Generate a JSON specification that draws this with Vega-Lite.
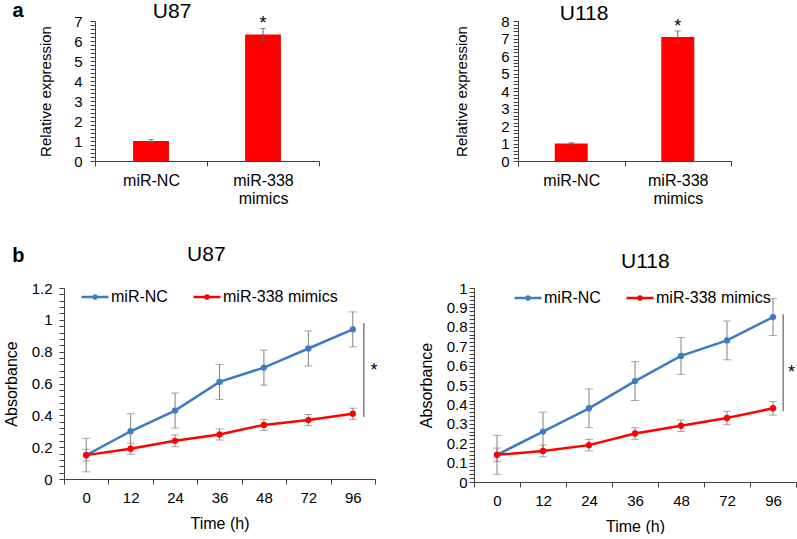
{
  "$schema": "https://vega.github.io/schema/vega-lite/v6.json",
  "padding": {"left": 3, "top": 1, "right": 0, "bottom": 0},
  "background": "white",
  "config": {
    "font": "Liberation Sans",
    "view": {"stroke": null},
    "axis": {"domainColor": "#404040", "tickColor": "#404040", "labelColor": "#000000", "titleColor": "#000000", "titleFontWeight": "normal", "grid": false, "labelFontSize": 15, "titleFontSize": 15, "tickSize": 5, "labelPadding": 4},
    "title": {"fontWeight": "normal", "color": "#000000"},
    "legend": {"padding": 0}
  },
  "resolve": {"scale": {"color": "independent"}, "legend": {"color": "independent"}},
  "datasets": {
    "expr": [
      {"line": "U87", "group": "miR-NC", "value": 1.0, "err": 0.07, "sig": ""},
      {"line": "U87", "group": "miR-338 mimics", "value": 6.33, "err": 0.3, "sig": "*"},
      {"line": "U118", "group": "miR-NC", "value": 1.0, "err": 0.04, "sig": ""},
      {"line": "U118", "group": "miR-338 mimics", "value": 7.08, "err": 0.35, "sig": "*"}
    ],
    "prolif": [
      {"line": "U87", "group": "miR-NC", "time": 0, "value": 0.15, "err": 0.105},
      {"line": "U87", "group": "miR-NC", "time": 12, "value": 0.30, "err": 0.11},
      {"line": "U87", "group": "miR-NC", "time": 24, "value": 0.43, "err": 0.11},
      {"line": "U87", "group": "miR-NC", "time": 36, "value": 0.61, "err": 0.11},
      {"line": "U87", "group": "miR-NC", "time": 48, "value": 0.70, "err": 0.11},
      {"line": "U87", "group": "miR-NC", "time": 72, "value": 0.82, "err": 0.11},
      {"line": "U87", "group": "miR-NC", "time": 96, "value": 0.94, "err": 0.11},
      {"line": "U87", "group": "miR-338 mimics", "time": 0, "value": 0.15, "err": 0.037},
      {"line": "U87", "group": "miR-338 mimics", "time": 12, "value": 0.19, "err": 0.035},
      {"line": "U87", "group": "miR-338 mimics", "time": 24, "value": 0.24, "err": 0.037},
      {"line": "U87", "group": "miR-338 mimics", "time": 36, "value": 0.28, "err": 0.035},
      {"line": "U87", "group": "miR-338 mimics", "time": 48, "value": 0.34, "err": 0.035},
      {"line": "U87", "group": "miR-338 mimics", "time": 72, "value": 0.37, "err": 0.035},
      {"line": "U87", "group": "miR-338 mimics", "time": 96, "value": 0.41, "err": 0.035},
      {"line": "U118", "group": "miR-NC", "time": 0, "value": 0.14, "err": 0.1},
      {"line": "U118", "group": "miR-NC", "time": 12, "value": 0.26, "err": 0.1},
      {"line": "U118", "group": "miR-NC", "time": 24, "value": 0.38, "err": 0.1},
      {"line": "U118", "group": "miR-NC", "time": 36, "value": 0.52, "err": 0.1},
      {"line": "U118", "group": "miR-NC", "time": 48, "value": 0.65, "err": 0.095},
      {"line": "U118", "group": "miR-NC", "time": 72, "value": 0.73, "err": 0.1},
      {"line": "U118", "group": "miR-NC", "time": 96, "value": 0.85, "err": 0.095},
      {"line": "U118", "group": "miR-338 mimics", "time": 0, "value": 0.14, "err": 0.035},
      {"line": "U118", "group": "miR-338 mimics", "time": 12, "value": 0.16, "err": 0.03},
      {"line": "U118", "group": "miR-338 mimics", "time": 24, "value": 0.19, "err": 0.03},
      {"line": "U118", "group": "miR-338 mimics", "time": 36, "value": 0.25, "err": 0.03},
      {"line": "U118", "group": "miR-338 mimics", "time": 48, "value": 0.29, "err": 0.03},
      {"line": "U118", "group": "miR-338 mimics", "time": 72, "value": 0.33, "err": 0.035},
      {"line": "U118", "group": "miR-338 mimics", "time": 96, "value": 0.38, "err": 0.035}
    ],
    "bracket": [
      {"line": "U87", "time": 96, "top": 0.98, "bottom": 0.39, "star": 0.71, "sig": "*"},
      {"line": "U118", "time": 96, "top": 0.865, "bottom": 0.365, "star": 0.59, "sig": "*"}
    ]
  },
  "columns": 1,
  "align": "none",
  "spacing": 38,
  "concat": [
    {
      "title": {"text": "a", "anchor": "end", "frame": "bounds", "orient": "left", "angle": 0, "align": "right", "baseline": "top", "offset": 4, "fontSize": 20, "fontWeight": "bold"},
      "columns": 2,
      "align": "none",
      "spacing": 134,
      "concat": [
        {
          "width": 255, "height": 140,
          "title": {"text": "U87", "fontSize": 21, "frame": "bounds", "offset": -8, "dx": -7},
          "data": {"name": "expr"},
          "transform": [{"filter": "datum.line == 'U87'"}],
          "encoding": {
            "x": {"field": "group", "type": "nominal", "sort": ["miR-NC", "miR-338 mimics"], "scale": {"paddingInner": 0, "paddingOuter": 0, "range": [31, 255]},
              "axis": {"title": null, "labelAngle": 0, "tickBand": "extent", "labelFontSize": 16, "labelPadding": 6, "labelExpr": "datum.label == 'miR-338 mimics' ? ['miR-338', 'mimics'] : datum.label"}},
            "y": {"field": "value", "type": "quantitative", "scale": {"domain": [0, 7]},
               "axis": {"title": "Relative expression", "offset": -31, "titlePadding": 20, "labelPadding": 8, "format": "~g",
                 "values": [0,0.2,0.4,0.6,0.8,1,1.2,1.4,1.6,1.8,2,2.2,2.4,2.6,2.8,3,3.2,3.4,3.6,3.8,4,4.2,4.4,4.6,4.8,5,5.2,5.4,5.6,5.8,6,6.2,6.4,6.6,6.8,7],
                 "labelExpr": "abs(datum.value - round(datum.value)) < 0.001 ? datum.label : ''"}}
          },
          "layer": [
            {"mark": {"type": "bar", "color": "#FF0000", "width": {"band": 0.32}}},
            {"mark": {"type": "errorbar", "color": "#606060", "ticks": {"size": 6}},
             "encoding": {"yError": {"field": "err"}}},
            {"mark": {"type": "text", "fontSize": 18, "baseline": "alphabetic", "dy": -5},
             "encoding": {"text": {"field": "sig"}}}
          ]
        },
        {
          "width": 213, "height": 140,
          "title": {"text": "U118", "fontSize": 21, "frame": "bounds", "offset": -10, "dx": -9},
          "data": {"name": "expr"},
          "transform": [{"filter": "datum.line == 'U118'"}],
          "encoding": {
            "x": {"field": "group", "type": "nominal", "sort": ["miR-NC", "miR-338 mimics"], "scale": {"paddingInner": 0, "paddingOuter": 0},
              "axis": {"title": null, "labelAngle": 0, "tickBand": "extent", "labelFontSize": 16, "labelPadding": 6, "labelExpr": "datum.label == 'miR-338 mimics' ? ['miR-338', 'mimics'] : datum.label"}},
            "y": {"field": "value", "type": "quantitative", "scale": {"domain": [0, 8]},
               "axis": {"title": "Relative expression", "titlePadding": 31, "labelPadding": 4, "format": "~g",
                 "values": [0,0.2,0.4,0.6,0.8,1,1.2,1.4,1.6,1.8,2,2.2,2.4,2.6,2.8,3,3.2,3.4,3.6,3.8,4,4.2,4.4,4.6,4.8,5,5.2,5.4,5.6,5.8,6,6.2,6.4,6.6,6.8,7,7.2,7.4,7.6,7.8,8],
                 "labelExpr": "abs(datum.value - round(datum.value)) < 0.001 ? datum.label : ''"}}
          },
          "layer": [
            {"mark": {"type": "bar", "color": "#FF0000", "width": {"band": 0.31}}},
            {"mark": {"type": "errorbar", "color": "#606060", "ticks": {"size": 6}},
             "encoding": {"yError": {"field": "err"}}},
            {"mark": {"type": "text", "fontSize": 18, "baseline": "alphabetic", "dy": -5},
             "encoding": {"text": {"field": "sig"}}}
          ]
        }
      ]
    },
    {
      "title": {"text": "b", "anchor": "start", "frame": "bounds", "orient": "top", "offset": -22, "dx": 9, "fontSize": 20, "fontWeight": "bold"},
      "columns": 2,
      "align": "none",
      "spacing": 40,
      "resolve": {"scale": {"color": "independent"}, "legend": {"color": "independent"}},
      "concat": [
        {
          "width": 311, "height": 191,
          "title": {"text": "U87", "fontSize": 21, "frame": "bounds", "offset": 16, "dx": 16},
          "data": {"name": "prolif"},
          "transform": [{"filter": "datum.line == 'U87'"}],
          "encoding": {
            "x": {"field": "time", "type": "ordinal", "scale": {"paddingInner": 0, "paddingOuter": 0},
              "axis": {"title": "Time (h)", "titleFontSize": 16, "labelAngle": 0, "tickBand": "extent", "labelPadding": 6, "titlePadding": 10}},
            "y": {"field": "value", "type": "quantitative", "scale": {"domain": [0, 1.2]},
              "axis": {"title": "Absorbance", "titleFontSize": 16, "titlePadding": 12, "labelPadding": 7, "format": "~g",
                "values": [0,0.04,0.08,0.12,0.16,0.2,0.24,0.28,0.32,0.36,0.4,0.44,0.48,0.52,0.56,0.6,0.64,0.68,0.72,0.76,0.8,0.84,0.88,0.92,0.96,1,1.04,1.08,1.12,1.16,1.2],
                "labelExpr": "abs(datum.value*5 - round(datum.value*5)) < 0.001 ? datum.label : ''"}}
          },
          "layer": [
            {"mark": {"type": "errorbar", "color": "#808080", "ticks": {"size": 8}},
             "encoding": {"yError": {"field": "err"}, "detail": {"field": "group"}}},
            {"mark": {"type": "line", "strokeWidth": 2.5, "point": {"filled": true, "size": 40}},
             "encoding": {
               "color": {"field": "group", "type": "nominal", "sort": ["miR-NC", "miR-338 mimics"],
                 "scale": {"domain": ["miR-NC", "miR-338 mimics"], "range": ["#3C7CC3", "#FF0000"]},
                 "legend": {"orient": "none", "legendX": 16, "legendY": -6, "direction": "horizontal", "title": null,
                   "symbolType": "M-1,0L1,0M0.12,0A0.12,0.12,0,1,1,-0.12,0A0.12,0.12,0,1,1,0.12,0M0.04,0A0.04,0.04,0,1,1,-0.04,0A0.04,0.04,0,1,1,0.04,0",
                   "symbolSize": 729, "symbolStrokeWidth": 2.5, "labelFontSize": 16, "columnPadding": 20, "labelOffset": 1}}
             }},
            {"data": {"name": "bracket"}, "transform": [{"filter": "datum.line == 'U87'"}],
             "mark": {"type": "rule", "color": "#404040", "strokeWidth": 1},
             "encoding": {"x": {"field": "time", "type": "ordinal", "bandPosition": 0.75}, "y": {"field": "top", "type": "quantitative"}, "y2": {"field": "bottom"}}},
            {"data": {"name": "bracket"}, "transform": [{"filter": "datum.line == 'U87'"}],
             "mark": {"type": "text", "fontSize": 18, "baseline": "middle", "dy": 5},
             "encoding": {"x": {"field": "time", "type": "ordinal", "bandPosition": 0.98}, "y": {"field": "star", "type": "quantitative"}, "text": {"field": "sig"}}}
          ]
        },
        {
          "width": 322, "height": 194,
          "title": {"text": "U118", "fontSize": 21, "frame": "bounds", "offset": 9, "dx": 38},
          "data": {"name": "prolif"},
          "transform": [{"filter": "datum.line == 'U118'"}],
          "encoding": {
            "x": {"field": "time", "type": "ordinal", "scale": {"paddingInner": 0, "paddingOuter": 0},
              "axis": {"title": "Time (h)", "titleFontSize": 16, "labelAngle": 0, "tickBand": "extent", "labelPadding": 6, "titlePadding": 10}},
            "y": {"field": "value", "type": "quantitative", "scale": {"domain": [0, 1]},
              "axis": {"title": "Absorbance", "titleFontSize": 16, "titlePadding": 12, "labelPadding": 2, "format": "~g",
                "values": [0,0.02,0.04,0.06,0.08,0.1,0.12,0.14,0.16,0.18,0.2,0.22,0.24,0.26,0.28,0.3,0.32,0.34,0.36,0.38,0.4,0.42,0.44,0.46,0.48,0.5,0.52,0.54,0.56,0.58,0.6,0.62,0.64,0.66,0.68,0.7,0.72,0.74,0.76,0.78,0.8,0.82,0.84,0.86,0.88,0.9,0.92,0.94,0.96,0.98,1],
                "labelExpr": "abs(datum.value*10 - round(datum.value*10)) < 0.001 ? datum.label : ''"}}
          },
          "layer": [
            {"mark": {"type": "errorbar", "color": "#808080", "ticks": {"size": 8}},
             "encoding": {"yError": {"field": "err"}, "detail": {"field": "group"}}},
            {"mark": {"type": "line", "strokeWidth": 2.5, "point": {"filled": true, "size": 40}},
             "encoding": {
               "color": {"field": "group", "type": "nominal", "sort": ["miR-NC", "miR-338 mimics"],
                 "scale": {"domain": ["miR-NC", "miR-338 mimics"], "range": ["#3C7CC3", "#FF0000"]},
                 "legend": {"orient": "none", "legendX": 39, "legendY": -5, "direction": "horizontal", "title": null,
                   "symbolType": "M-1,0L1,0M0.12,0A0.12,0.12,0,1,1,-0.12,0A0.12,0.12,0,1,1,0.12,0M0.04,0A0.04,0.04,0,1,1,-0.04,0A0.04,0.04,0,1,1,0.04,0",
                   "symbolSize": 729, "symbolStrokeWidth": 2.5, "labelFontSize": 16, "columnPadding": 20, "labelOffset": 1}}
             }},
            {"data": {"name": "bracket"}, "transform": [{"filter": "datum.line == 'U118'"}],
             "mark": {"type": "rule", "color": "#404040", "strokeWidth": 1},
             "encoding": {"x": {"field": "time", "type": "ordinal", "bandPosition": 0.72}, "y": {"field": "top", "type": "quantitative"}, "y2": {"field": "bottom"}}},
            {"data": {"name": "bracket"}, "transform": [{"filter": "datum.line == 'U118'"}],
             "mark": {"type": "text", "fontSize": 18, "baseline": "middle", "dy": 5},
             "encoding": {"x": {"field": "time", "type": "ordinal", "bandPosition": 0.9}, "y": {"field": "star", "type": "quantitative"}, "text": {"field": "sig"}}}
          ]
        }
      ]
    }
  ]
}
